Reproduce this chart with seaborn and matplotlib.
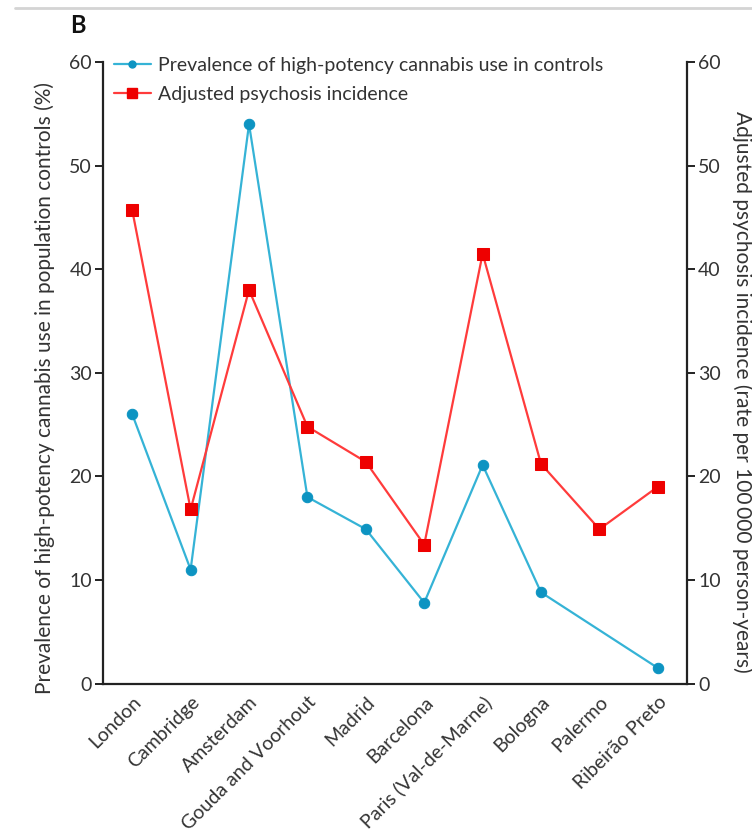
import numpy as np
import pandas as pd
import matplotlib
matplotlib.use("Agg")
import matplotlib.pyplot as plt
from matplotlib.lines import Line2D
import seaborn as sns

# Sites and their values
sites = ["London", "Cambridge", "Amsterdam", "Gouda and Voorhout", "Madrid",
         "Barcelona", "Paris (Val-de-Marne)", "Bologna", "Palermo", "Ribeirão Preto"]
prevalence = [26.0, 11.0, 54.0, 18.0, 14.9, 7.8, 21.1, 8.8, np.nan, 1.5]
incidence = [45.7, 16.8, 38.0, 24.8, 21.4, 13.4, 41.5, 21.2, 14.9, 19.0]
y_ticks = [0, 10, 20, 30, 40, 50, 60]

sns.set_style("white")
plt.rcParams["font.family"] = ["Lato", "DejaVu Sans"]

blue_line, blue_mark = "#35b3d6", "#0d94c2"
red_line, red_mark = "#ff3b3b", "#ee0000"
axis_col = "#222222"
text_col = "#333333"

df = pd.DataFrame({"pos": np.arange(len(sites)), "site": sites,
                   "prevalence": prevalence, "incidence": incidence})

fig = plt.figure(figsize=(7.52, 8.36), dpi=100)
ax = fig.add_axes([0.137, 0.1824, 0.7766, 0.7434])
ax2 = ax.twinx()

sns.lineplot(data=df.dropna(subset=["prevalence"]), x="pos", y="prevalence", ax=ax,
             color=blue_line, lw=1.6, marker="o", markersize=7.5,
             markerfacecolor=blue_mark, markeredgecolor=blue_mark)
sns.lineplot(data=df, x="pos", y="incidence", ax=ax2,
             color=red_line, lw=1.6, marker="s", markersize=8,
             markerfacecolor=red_mark, markeredgecolor=red_mark)

for a in (ax, ax2):
    a.set_ylim(0, 60)
    a.set_yticks(y_ticks)
    a.set_xlim(-0.5, len(sites) - 0.5)
    a.set_xlabel("")
    a.spines["top"].set_visible(False)
    for s in ("left", "right", "bottom"):
        a.spines[s].set_color(axis_col)
        a.spines[s].set_linewidth(1.6)
    a.tick_params(axis="y", direction="out", length=6, width=1.4, color=axis_col,
                  labelsize=14, labelcolor=text_col, pad=2)

ax.spines["right"].set_visible(False)
ax2.spines["left"].set_visible(False)
ax2.spines["bottom"].set_visible(False)

# Category labels at centres, tick marks at category boundaries
ax.set_xticks(df["pos"])
ax.set_xticklabels(sites, rotation=45, ha="right", rotation_mode="anchor",
                   fontsize=14, color=text_col)
ax.tick_params(axis="x", which="major", length=0, pad=7)
ax.set_xticks(np.arange(-0.5, len(sites), 1.0), minor=True)
ax.tick_params(axis="x", which="minor", direction="out", length=6, width=1.4, color=axis_col)

ax.set_ylabel("Prevalence of high-potency cannabis use in population controls (%)",
              fontsize=15, color=text_col, labelpad=6)
ax.yaxis.set_label_coords(-0.083, 0.475)
ax2.set_ylabel("Adjusted psychosis incidence (rate per 100\u2009000 person-years)",
               fontsize=15, color=text_col, rotation=270, va="bottom")
ax2.yaxis.set_label_coords(1.077, 0.47)

handles = [
    Line2D([], [], color=blue_line, lw=1.6, marker="o", markersize=5,
           markerfacecolor=blue_mark, markeredgecolor=blue_mark),
    Line2D([], [], color=red_line, lw=1.6, marker="s", markersize=6.5,
           markerfacecolor=red_mark, markeredgecolor=red_mark),
]
labels = ["Prevalence of high-potency cannabis use in controls", "Adjusted psychosis incidence"]
leg = ax2.legend(handles, labels, loc="upper left", bbox_to_anchor=(-0.005, 1.03),
                 frameon=False, handlelength=1.9, handletextpad=0.4, labelspacing=0.62,
                 borderaxespad=0.3, prop={"size": 14})
for t in leg.get_texts():
    t.set_color(text_col)

fig.text(0.093, 0.97, "B", fontsize=17, fontweight="bold", color="#111111",
         ha="left", va="center")
fig.add_artist(Line2D([0.02, 1.0], [0.99, 0.99], transform=fig.transFigure,
                      color="#d4d4d4", lw=2))

fig.savefig("out.png", dpi=100)
